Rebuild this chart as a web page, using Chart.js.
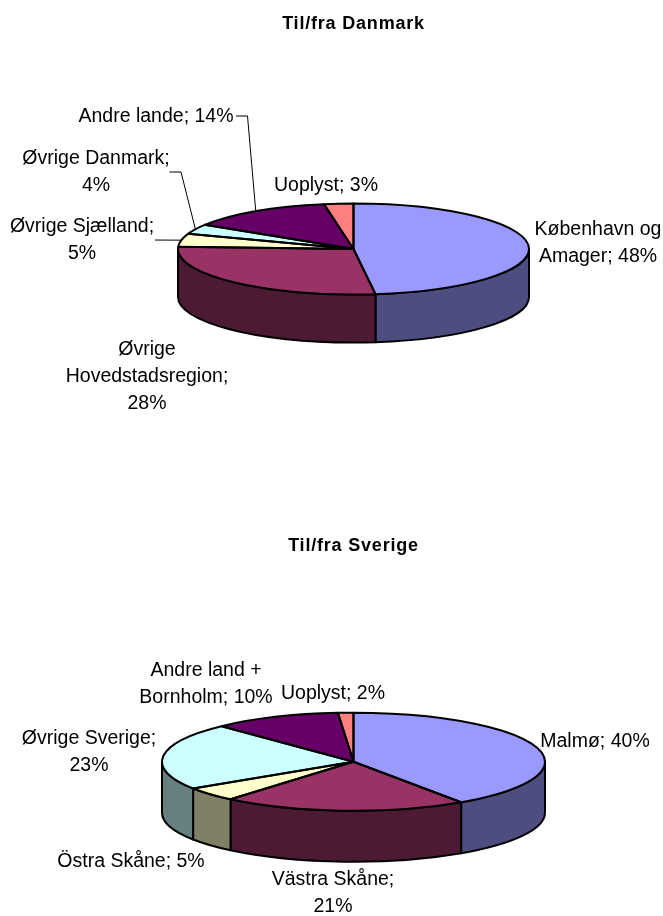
<!DOCTYPE html>
<html>
<head>
<meta charset="utf-8">
<style>
    html, body { margin: 0; padding: 0; background: #ffffff; overflow: hidden; }
    .box { position: absolute; left: 0; width: 663px; height: 458px; }
    #boxDk { top: 0; }
    #boxSe { top: 458px; }
</style>
<script src="https://cdn.jsdelivr.net/npm/chart.js@4"></script>
</head>
<body>
<div class="box" id="boxDk"><canvas id="graficaDk" width="663" height="458"></canvas></div>
<div class="box" id="boxSe"><canvas id="graficaSe" width="663" height="458"></canvas></div>
<script>
// Danmark
const dkCategories = ['København og Amager', 'Øvrige Hovedstadsregion', 'Øvrige Sjælland', 'Øvrige Danmark', 'Andre lande', 'Uoplyst'];
const dkShares = [48, 27.8, 4.6, 3.5, 13.4, 2.7];
const dkLabelText = ['København og\nAmager; 48%', 'Øvrige\nHovedstadsregion;\n28%', 'Øvrige Sjælland;\n5%', 'Øvrige Danmark;\n4%', 'Andre lande; 14%', 'Uoplyst; 3%'];

// Sverige
const seCategories = ['Malmø', 'Västra Skåne', 'Östra Skåne', 'Øvrige Sverige', 'Andre land + Bornholm', 'Uoplyst'];
const seShares = [40.5, 20.6, 4.7, 22.1, 10.8, 1.3];
const seLabelText = ['Malmø; 40%', 'Västra Skåne;\n21%', 'Östra Skåne; 5%', 'Øvrige Sverige;\n23%', 'Andre land +\nBornholm; 10%', 'Uoplyst; 2%'];

const sliceColors = ['#9999ff', '#993366', '#ffffcc', '#ccffff', '#660066', '#ff8080'];
const wallColors = ['#4d4d80', '#4d1a33', '#808066', '#668080', '#330033', '#804040'];

const labelFont = '19.5px "Liberation Sans", Arial, sans-serif';
const lineHeight = 27;

// where the labels go: x centre and y of the first line, same order as the slices
const dkLabelX = [598, 147, 82, 96, 156, 326];
const dkLabelY = [229.5, 349.5, 226.5, 158.5, 116.5, 185.5];
const seLabelX = [595, 333, 131, 89, 206, 333];
const seLabelY = [283.5, 421.5, 403.5, 280.5, 212.5, 235.5];

// leader lines: slice index and the elbow, the far end is the label side
const dkLeaders = [
    { slice: 4, from: [236, 116], elbow: [247.5, 116] },
    { slice: 3, from: [169.5, 172], elbow: [181, 172] },
    { slice: 2, from: [155, 240], elbow: [155, 240] }
];

function arcProps(chart, i) {
    return chart.getDatasetMeta(0).data[i].getProps(['x', 'y', 'startAngle', 'endAngle', 'outerRadius'], true);
}

const pie3d = {
    id: 'pie3d',
    beforeDraw(chart) {
        chart.ctx.letterSpacing = '0.8px';
    },
    beforeDatasetsDraw(chart, args, opts) {
        const ctx = chart.ctx;
        const n = chart.getDatasetMeta(0).data.length;
        ctx.letterSpacing = '0px';

        // walls first, only the part of each slice that faces us
        for (let i = 0; i < n; i++) {
            const a = arcProps(chart, i);
            const ry = a.outerRadius * opts.tilt;
            const s = Math.max(a.startAngle, 0);
            const e = Math.min(a.endAngle, Math.PI);
            if (e <= s) continue;
            ctx.beginPath();
            ctx.ellipse(a.x, a.y, a.outerRadius, ry, 0, s, e);
            ctx.ellipse(a.x, a.y + opts.depth, a.outerRadius, ry, 0, e, s, true);
            ctx.closePath();
            ctx.fillStyle = wallColors[i];
            ctx.fill();
            ctx.lineWidth = 2;
            ctx.strokeStyle = '#000000';
            ctx.lineJoin = 'round';
            ctx.stroke();
        }

        // the library's own arcs get squashed into the tilted top
        const c = arcProps(chart, 0);
        ctx.save();
        ctx.translate(c.x, c.y);
        ctx.scale(1, opts.tilt);
        ctx.translate(-c.x, -c.y);
    },
    afterDatasetsDraw(chart, args, opts) {
        const ctx = chart.ctx;
        ctx.restore();

        const n = chart.getDatasetMeta(0).data.length;
        ctx.lineWidth = 2;
        ctx.strokeStyle = '#000000';
        ctx.lineJoin = 'round';
        for (let i = 0; i < n; i++) {
            const a = arcProps(chart, i);
            const ry = a.outerRadius * opts.tilt;
            ctx.beginPath();
            ctx.moveTo(a.x, a.y);
            ctx.ellipse(a.x, a.y, a.outerRadius, ry, 0, a.startAngle, a.endAngle);
            ctx.closePath();
            ctx.stroke();
        }

        // leader lines run to the middle of the slice's rim
        ctx.lineWidth = 1;
        opts.leaders.forEach(l => {
            const a = arcProps(chart, l.slice);
            const mid = (a.startAngle + a.endAngle) / 2;
            ctx.beginPath();
            ctx.moveTo(l.from[0], l.from[1]);
            ctx.lineTo(l.elbow[0], l.elbow[1]);
            ctx.lineTo(a.x + Math.cos(mid) * a.outerRadius, a.y + Math.sin(mid) * a.outerRadius * opts.tilt);
            ctx.stroke();
        });

        ctx.font = labelFont;
        ctx.fillStyle = '#000000';
        ctx.textAlign = 'center';
        ctx.textBaseline = 'middle';
        opts.text.forEach((t, i) => {
            t.split('\n').forEach((line, k) => {
                ctx.fillText(line, opts.labelX[i], opts.labelY[i] + k * lineHeight);
            });
        });
    }
};

function crearPie(id, categories, shares, title, radius, titlePadding, bottomPadding, pie) {
    return new Chart(document.getElementById(id), {
        type: 'pie',
        data: {
            labels: categories,
            datasets: [{
                data: shares,
                backgroundColor: sliceColors,
                borderWidth: 0,
                radius: radius,
                clip: false
            }]
        },
        options: {
            responsive: false,
            animation: false,
            layout: { padding: { left: 44, right: 0, top: 0, bottom: bottomPadding } },
            plugins: {
                legend: { display: false },
                tooltip: { enabled: false },
                title: {
                    display: true,
                    text: title,
                    color: '#000000',
                    font: { family: '"Liberation Sans", Arial, sans-serif', size: 18, weight: 'bold' },
                    padding: titlePadding
                },
                pie3d: pie
            }
        },
        plugins: [pie3d]
    });
}

crearPie('graficaDk', dkCategories, dkShares, 'Til/fra Danmark', 175.5, { top: 13, bottom: 25.4 }, 20, {
    tilt: 45.5 / 175.5,
    depth: 48,
    text: dkLabelText,
    labelX: dkLabelX,
    labelY: dkLabelY,
    leaders: dkLeaders
});

crearPie('graficaSe', seCategories, seShares, 'Til/fra Sverige', 191.5, { top: 77, bottom: 51.4 }, 0.6, {
    tilt: 49 / 191.5,
    depth: 51,
    text: seLabelText,
    labelX: seLabelX,
    labelY: seLabelY,
    leaders: []
});
</script>
</body>
</html>
